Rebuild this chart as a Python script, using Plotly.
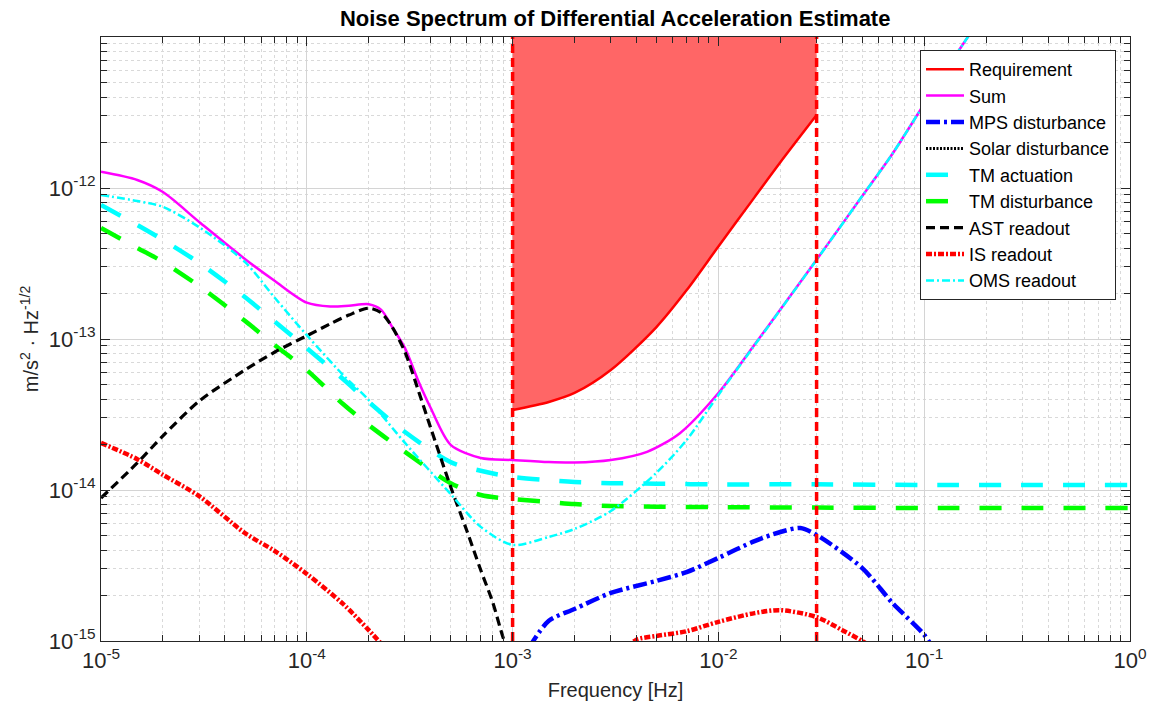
import plotly.graph_objects as go

FONT = "Liberation Sans, Arial, Helvetica, sans-serif"

# ---------------- data ----------------
Y_BOTTOM = 1e-15
Y_TOP = 1e-11
BAND = [1e-3, 3e-2]  # measurement band edges (Hz)

req_freq = [1e-3, 1.5e-3, 2e-3, 3e-3, 5e-3, 7e-3, 1e-2, 1.5e-2, 2e-2, 3e-2]
req_vals = [3.39e-14, 3.83e-14, 4.39e-14, 6.23e-14, 1.20e-13, 2.10e-13,
            4.10e-13, 8.7e-13, 1.48e-12, 3.04e-12]

sum_freq = [1e-5, 1.5e-5, 2e-5, 3e-5, 5e-5, 7e-5, 1e-4, 1.3e-4, 1.6e-4, 2e-4,
            2.3e-4, 2.6e-4, 3e-4, 3.5e-4, 4e-4, 5e-4, 7e-4, 1e-3, 1.5e-3, 2e-3,
            3e-3, 4.5e-3, 6.5e-3, 1e-2, 1.5e-2, 2e-2, 3e-2, 5e-2, 7e-2, 1e-1,
            1.5e-1, 2e-1, 3e-1]
sum_vals = [1.28e-12, 1.13e-12, 9.4e-13, 5.96e-13, 3.39e-13, 2.42e-13, 1.74e-13,
            1.64e-13, 1.66e-13, 1.70e-13, 1.56e-13, 1.20e-13, 8.7e-14, 5.19e-14,
            3.49e-14, 1.99e-14, 1.63e-14, 1.58e-14, 1.53e-14, 1.52e-14, 1.58e-14,
            1.79e-14, 2.38e-14, 4.39e-14, 9.2e-14, 1.57e-13, 3.35e-13, 8.85e-13,
            1.68e-12, 3.6e-12, 8.45e-12, 1.51e-11, 3.4e-11]

mps_freq = [1.2e-3, 1.5e-3, 2e-3, 3e-3, 5e-3, 7e-3, 1e-2, 1.5e-2, 2e-2, 2.5e-2,
            3e-2, 5e-2, 7e-2, 1e-1, 1.1e-1]
mps_vals = [9.0e-16, 1.36e-15, 1.63e-15, 2.08e-15, 2.50e-15, 2.86e-15, 3.55e-15,
            4.59e-15, 5.27e-15, 5.6e-15, 5.04e-15, 3.04e-15, 1.79e-15, 1.10e-15,
            9.0e-16]

# solar disturbance lies entirely below the plotted range (legend entry only)
solar_freq = [None]
solar_vals = [None]

tmact_freq = [1e-5, 1.5e-5, 2e-5, 3e-5, 5e-5, 7e-5, 1e-4, 1.5e-4, 2e-4, 3e-4,
              5e-4, 7e-4, 1e-3, 1.5e-3, 2e-3, 3e-3, 5e-3, 1e-2, 3e-2, 1e-1, 1.0]
tmact_vals = [7.71e-13, 5.69e-13, 4.53e-13, 3.19e-13, 1.90e-13, 1.30e-13, 8.7e-14,
              5.43e-14, 3.83e-14, 2.42e-14, 1.53e-14, 1.34e-14, 1.22e-14, 1.16e-14,
              1.13e-14, 1.11e-14, 1.10e-14, 1.09e-14, 1.09e-14, 1.08e-14, 1.08e-14]

tmdist_freq = [1e-5, 1.5e-5, 2e-5, 3e-5, 5e-5, 7e-5, 1e-4, 1.5e-4, 2e-4, 3e-4,
               5e-4, 7e-4, 1e-3, 1.5e-3, 2e-3, 3e-3, 5e-3, 1e-2, 3e-2, 1e-1, 1.0]
tmdist_vals = [5.43e-13, 4.01e-13, 3.24e-13, 2.24e-13, 1.32e-13, 9.1e-14, 6.23e-14,
               3.71e-14, 2.69e-14, 1.79e-14, 1.11e-14, 9.27e-15, 8.71e-15, 8.33e-15,
               8.07e-15, 7.83e-15, 7.75e-15, 7.7e-15, 7.65e-15, 7.6e-15, 7.6e-15]

ast_freq = [1e-5, 1.5e-5, 2e-5, 3e-5, 5e-5, 7e-5, 1e-4, 1.3e-4, 1.6e-4, 2e-4,
            2.3e-4, 2.6e-4, 3e-4, 3.5e-4, 4e-4, 5e-4, 6e-4, 7e-4, 8e-4, 9e-4, 1e-3]
ast_vals = [8.85e-15, 1.51e-14, 2.28e-14, 3.88e-14, 6.23e-14, 8.2e-14, 1.05e-13,
            1.26e-13, 1.44e-13, 1.60e-13, 1.49e-13, 1.20e-13, 8.2e-14, 4.46e-14,
            2.58e-14, 1.05e-14, 5.35e-15, 2.95e-15, 1.81e-15, 1.05e-15, 7.2e-16]

is_freq = [1e-5, 1.5e-5, 2e-5, 3e-5, 5e-5, 7e-5, 1e-4, 1.5e-4, 2e-4, 2.5e-4, None,
           3.5e-3, 4e-3, 5e-3, 7e-3, 1e-2, 1.5e-2, 2e-2, 3e-2, 4e-2, 5e-2, 6e-2]
is_vals = [2.05e-14, 1.60e-14, 1.26e-14, 9.1e-15, 5.19e-15, 3.94e-15, 2.78e-15,
           1.76e-15, 1.18e-15, 8.45e-16, None,
           8.7e-16, 1.02e-15, 1.08e-15, 1.16e-15, 1.34e-15, 1.53e-15, 1.60e-15,
           1.44e-15, 1.18e-15, 1.0e-15, 8.5e-16]

oms_freq = [1e-5, 1.5e-5, 2e-5, 3e-5, 5e-5, 7e-5, 1e-4, 1.5e-4, 2e-4, 3e-4, 5e-4,
            7e-4, 1e-3, 1.5e-3, 2e-3, 3e-3, 5e-3, 7e-3, 1e-2, 1.5e-2, 2e-2, 3e-2,
            5e-2, 7e-2, 1e-1, 1.5e-1, 2e-1, 3e-1]
oms_vals = [9.0e-13, 8.2e-13, 7.5e-13, 5.5e-13, 3.24e-13, 1.87e-13, 1.06e-13,
            5.78e-14, 3.94e-14, 2.05e-14, 9.4e-15, 5.7e-15, 4.33e-15, 4.89e-15,
            5.52e-15, 7.26e-15, 1.30e-14, 2.14e-14, 4.26e-14, 9.1e-14, 1.56e-13,
            3.34e-13, 8.85e-13, 1.68e-12, 3.6e-12, 8.45e-12, 1.51e-11, 3.4e-11]

x_tickvals = [1e-5, 1e-4, 1e-3, 1e-2, 1e-1, 1e0]
x_ticktext = ["10<sup>-5</sup>", "10<sup>-4</sup>", "10<sup>-3</sup>",
              "10<sup>-2</sup>", "10<sup>-1</sup>", "10<sup>0</sup>"]
y_tickvals = [1e-15, 1e-14, 1e-13, 1e-12]
y_ticktext = ["10<sup>-15</sup>", "10<sup>-14</sup>", "10<sup>-13</sup>",
              "10<sup>-12</sup>"]

SM = 0.8  # spline smoothing

# ---------------- figure ----------------
fig = go.Figure()

# requirement shaded region: invisible top boundary, then filled area down to curve
fig.add_trace(go.Scatter(
    x=req_freq, y=[Y_TOP] * len(req_freq), mode="lines",
    line=dict(width=0, color="rgba(0,0,0,0)"),
    showlegend=False, hoverinfo="skip"))
fig.add_trace(go.Scatter(
    x=req_freq, y=req_vals, fill="tonexty", fillcolor="rgb(255,102,102)",
    mode="lines", line=dict(width=0, color="rgb(255,102,102)", shape="spline",
                            smoothing=SM),
    showlegend=False, hoverinfo="skip"))

fig.add_trace(go.Scatter(x=req_freq, y=req_vals, name="Requirement", mode="lines",
                         line=dict(color="#FF0000", width=2.5, shape="spline",
                                   smoothing=SM)))
fig.add_trace(go.Scatter(x=sum_freq, y=sum_vals, name="Sum", mode="lines",
                         line=dict(color="#FF00FF", width=2.5, shape="spline",
                                   smoothing=SM)))
fig.add_trace(go.Scatter(x=mps_freq, y=mps_vals, name="MPS disturbance", mode="lines",
                         line=dict(color="#0000FF", width=4.5, shape="spline",
                                   smoothing=SM, dash="14px,4px,3px,4px")))
fig.add_trace(go.Scatter(x=solar_freq, y=solar_vals, name="Solar disturbance",
                         mode="lines",
                         line=dict(color="#000000", width=3, dash="2px,1.5px")))
fig.add_trace(go.Scatter(x=tmact_freq, y=tmact_vals, name="TM actuation", mode="lines",
                         line=dict(color="#00FFFF", width=4.5, shape="spline",
                                   smoothing=SM, dash="22px,20px")))
fig.add_trace(go.Scatter(x=tmdist_freq, y=tmdist_vals, name="TM disturbance",
                         mode="lines",
                         line=dict(color="#00FF00", width=4.5, shape="spline",
                                   smoothing=SM, dash="22px,20px")))
fig.add_trace(go.Scatter(x=ast_freq, y=ast_vals, name="AST readout", mode="lines",
                         line=dict(color="#000000", width=3.2, shape="spline",
                                   smoothing=SM, dash="9px,5px")))
fig.add_trace(go.Scatter(x=is_freq, y=is_vals, name="IS readout", mode="lines",
                         connectgaps=False,
                         line=dict(color="#FF0000", width=4.5, shape="spline",
                                   smoothing=SM, dash="6px,2px,2px,2px")))
fig.add_trace(go.Scatter(x=oms_freq, y=oms_vals, name="OMS readout", mode="lines",
                         line=dict(color="#00FFFF", width=2.5, shape="spline",
                                   smoothing=SM, dash="8px,3px,2px,3px")))

# band edges (red dashed verticals)
for f in BAND:
    fig.add_trace(go.Scatter(x=[f, f], y=[Y_BOTTOM, Y_TOP], mode="lines",
                             line=dict(color="#FF0000", width=3.5, dash="9px,5px"),
                             showlegend=False, hoverinfo="skip"))

axis_common = dict(
    type="log", showline=True, linecolor="#262626", linewidth=1, mirror="ticks",
    ticks="inside", ticklen=9, tickcolor="#262626", automargin=False,
    showgrid=True, gridcolor="#d4d4d4", gridwidth=1, zeroline=False,
    tickfont=dict(family=FONT, size=22, color="#262626"),
    minor=dict(ticks="inside", ticklen=6, tickcolor="#262626", dtick="D1",
               showgrid=True, gridcolor="#d9d9d9", griddash="dot", gridwidth=1),
)

fig.update_xaxes(range=[-5, 0], tickmode="array", tickvals=x_tickvals,
                 ticktext=x_ticktext,
                 title=dict(text="Frequency [Hz]", font=dict(family=FONT, size=20,
                                                              color="#262626"),
                            standoff=10),
                 **axis_common)
fig.update_yaxes(range=[-15, -11], tickmode="array", tickvals=y_tickvals,
                 ticktext=y_ticktext,
                 title=dict(text="m/s<sup>2</sup> · Hz<sup>-1/2</sup>",
                            font=dict(family=FONT, size=20, color="#262626"),
                            standoff=4),
                 **axis_common)

fig.update_layout(
    width=1152, height=714,
    margin=dict(l=101, r=22, t=37, b=73),
    paper_bgcolor="white", plot_bgcolor="white",
    title=dict(text="<b>Noise Spectrum of Differential Acceleration Estimate</b>",
               x=0.534, xanchor="center", y=0.975, yanchor="middle",
               font=dict(family=FONT, size=22, color="#000000")),
    legend=dict(x=0.9864, xanchor="right", y=0.9785, yanchor="top",
                bgcolor="white", bordercolor="#262626", borderwidth=1,
                font=dict(family=FONT, size=18, color="#000000"),
                itemwidth=38,
                traceorder="normal", tracegroupgap=0),
    showlegend=True,
)

fig.write_html("out.html")
